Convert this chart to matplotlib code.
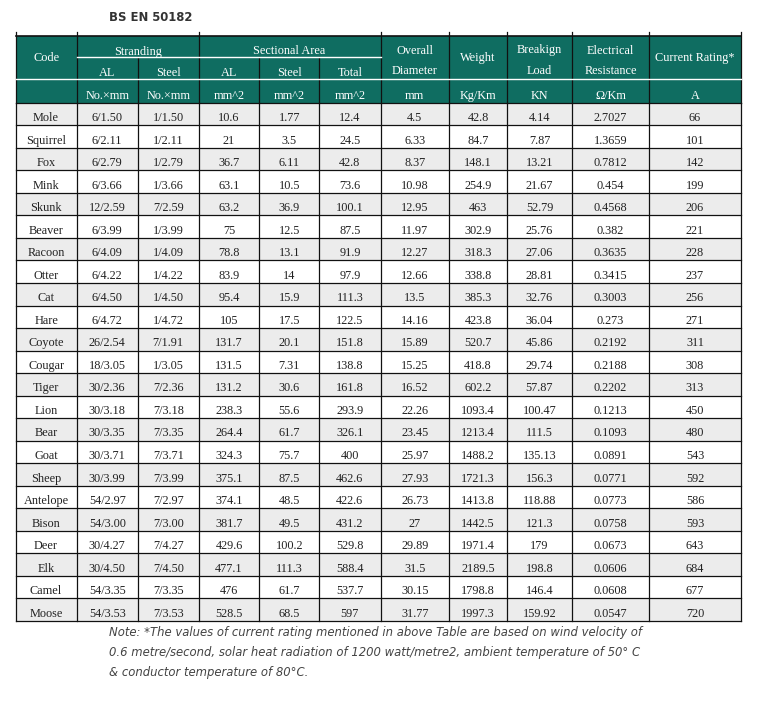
import matplotlib
matplotlib.use("Agg")
import matplotlib.pyplot as plt
from matplotlib.patches import Rectangle

# ---------------- data ----------------
title = "BS EN 50182"
codes = ["Mole", "Squirrel", "Fox", "Mink", "Skunk", "Beaver", "Racoon", "Otter", "Cat", "Hare",
         "Coyote", "Cougar", "Tiger", "Lion", "Bear", "Goat", "Sheep", "Antelope", "Bison", "Deer",
         "Elk", "Camel", "Moose"]
stranding_al = ["6/1.50", "6/2.11", "6/2.79", "6/3.66", "12/2.59", "6/3.99", "6/4.09", "6/4.22", "6/4.50",
                "6/4.72", "26/2.54", "18/3.05", "30/2.36", "30/3.18", "30/3.35", "30/3.71", "30/3.99",
                "54/2.97", "54/3.00", "30/4.27", "30/4.50", "54/3.35", "54/3.53"]
stranding_steel = ["1/1.50", "1/2.11", "1/2.79", "1/3.66", "7/2.59", "1/3.99", "1/4.09", "1/4.22", "1/4.50",
                   "1/4.72", "7/1.91", "1/3.05", "7/2.36", "7/3.18", "7/3.35", "7/3.71", "7/3.99",
                   "7/2.97", "7/3.00", "7/4.27", "7/4.50", "7/3.35", "7/3.53"]
area_al = ["10.6", "21", "36.7", "63.1", "63.2", "75", "78.8", "83.9", "95.4", "105", "131.7", "131.5",
           "131.2", "238.3", "264.4", "324.3", "375.1", "374.1", "381.7", "429.6", "477.1", "476", "528.5"]
area_steel = ["1.77", "3.5", "6.11", "10.5", "36.9", "12.5", "13.1", "14", "15.9", "17.5", "20.1", "7.31",
              "30.6", "55.6", "61.7", "75.7", "87.5", "48.5", "49.5", "100.2", "111.3", "61.7", "68.5"]
area_total = ["12.4", "24.5", "42.8", "73.6", "100.1", "87.5", "91.9", "97.9", "111.3", "122.5", "151.8",
              "138.8", "161.8", "293.9", "326.1", "400", "462.6", "422.6", "431.2", "529.8", "588.4",
              "537.7", "597"]
diameter = ["4.5", "6.33", "8.37", "10.98", "12.95", "11.97", "12.27", "12.66", "13.5", "14.16", "15.89",
            "15.25", "16.52", "22.26", "23.45", "25.97", "27.93", "26.73", "27", "29.89", "31.5", "30.15",
            "31.77"]
weight = ["42.8", "84.7", "148.1", "254.9", "463", "302.9", "318.3", "338.8", "385.3", "423.8", "520.7",
          "418.8", "602.2", "1093.4", "1213.4", "1488.2", "1721.3", "1413.8", "1442.5", "1971.4",
          "2189.5", "1798.8", "1997.3"]
breaking_load = ["4.14", "7.87", "13.21", "21.67", "52.79", "25.76", "27.06", "28.81", "32.76", "36.04",
                 "45.86", "29.74", "57.87", "100.47", "111.5", "135.13", "156.3", "118.88", "121.3", "179",
                 "198.8", "146.4", "159.92"]
resistance = ["2.7027", "1.3659", "0.7812", "0.454", "0.4568", "0.382", "0.3635", "0.3415", "0.3003",
              "0.273", "0.2192", "0.2188", "0.2202", "0.1213", "0.1093", "0.0891", "0.0771", "0.0773",
              "0.0758", "0.0673", "0.0606", "0.0608", "0.0547"]
current_rating = ["66", "101", "142", "199", "206", "221", "228", "237", "256", "271", "311", "308", "313",
                  "450", "480", "543", "592", "586", "593", "643", "684", "677", "720"]

units = ["", "No.×mm", "No.×mm", "mm^2", "mm^2", "mm^2", "mm", "Kg/Km", "KN", "Ω/Km", "A"]
note_lines = ["Note: *The values of current rating mentioned in above Table are based on wind velocity of",
              "0.6 metre/second, solar heat radiation of 1200 watt/metre2, ambient temperature of 50° C",
              "& conductor temperature of 80°C."]

columns = [codes, stranding_al, stranding_steel, area_al, area_steel, area_total,
           diameter, weight, breaking_load, resistance, current_rating]

# ---------------- layout ----------------
W, H = 758, 722
fig = plt.figure(figsize=(W / 100, H / 100), dpi=100)
ax = fig.add_axes([0, 0, 1, 1])
ax.set_xlim(0, W)
ax.set_ylim(H, 0)
ax.axis("off")

col_x = [15.5, 76.7, 137.7, 198.7, 259.3, 319.3, 380.5, 449, 507, 572, 649, 741]
top = 35.7
hdr_mid = 57.2
hdr_bot = 79.3
units_bot = 102.7
row_h = (621.0 - units_bot) / len(codes)

teal = "#0f6d61"
gray = "#ececec"
txt = "#222222"
serif = "Liberation Serif"
fs = 8.8

# header background
ax.add_patch(Rectangle((col_x[0], top), col_x[-1] - col_x[0], units_bot - top, color=teal, lw=0, zorder=1))

# data row backgrounds
for i in range(len(codes)):
    y0 = units_bot + i * row_h
    if i % 2 == 0:
        ax.add_patch(Rectangle((col_x[0], y0), col_x[-1] - col_x[0], row_h, color=gray, lw=0, zorder=1))

# data text
for i in range(len(codes)):
    yc = units_bot + (i + 0.5) * row_h + 4
    for j, col in enumerate(columns):
        xc = (col_x[j] + col_x[j + 1]) / 2
        ax.text(xc, yc, col[i], ha="center", va="center", fontsize=fs, family=serif, color=txt, zorder=3)

# grid lines for data
lw = 0.9
for i in range(len(codes) + 1):
    y = units_bot + i * row_h
    ax.plot([col_x[0], col_x[-1]], [y, y], color="#111111", lw=lw, zorder=2)
for x in col_x:
    ax.plot([x, x], [units_bot, units_bot + len(codes) * row_h], color="#111111", lw=lw, zorder=2)
# header vertical lines (spanning groups respected)
for j, x in enumerate(col_x):
    if j in (2, 4, 5):
        ax.plot([x, x], [hdr_mid, units_bot], color="#111111", lw=lw, zorder=2)
    else:
        ax.plot([x, x], [top - 4, units_bot], color="#111111", lw=lw, zorder=2)
ax.plot([col_x[0], col_x[-1]], [top, top], color="#111111", lw=1.2, zorder=2)
# white separators in header
ax.plot([col_x[1], col_x[6]], [hdr_mid, hdr_mid], color="white", lw=1.0, zorder=2)
ax.plot([col_x[0], col_x[-1]], [hdr_bot, hdr_bot], color="white", lw=1.0, zorder=2)


def hcell(c0, c1, y, s):
    ax.text((col_x[c0] + col_x[c1]) / 2, y, s, ha="center", va="center", fontsize=fs,
            family=serif, color="white", zorder=3)


hcell(0, 1, 57.7, "Code")
hcell(1, 3, 51.5, "Stranding")
hcell(3, 6, 51.5, "Sectional Area")
for j, s in zip(range(1, 6), ["AL", "Steel", "AL", "Steel", "Total"]):
    hcell(j, j + 1, 73.2, s)
hcell(6, 7, 50.5, "Overall")
hcell(6, 7, 71.0, "Diameter")
hcell(7, 8, 58.0, "Weight")
hcell(8, 9, 50.5, "Breakign")
hcell(8, 9, 71.0, "Load")
hcell(9, 10, 50.5, "Electrical")
hcell(9, 10, 71.0, "Resistance")
hcell(10, 11, 58.0, "Current Rating*")
for j, s in enumerate(units):
    hcell(j, j + 1, 96.2, s)

# title
ax.text(109.3, 17.5, title, ha="left", va="center", fontsize=8.4, family="DejaVu Sans",
        fontweight="bold", color="#333333")

# note
for k, line in enumerate(note_lines):
    ax.text(109.3, 632.5 + k * 20.2, line, ha="left", va="center", fontsize=8.42,
            family="DejaVu Sans", style="italic", color="#444444")

fig.savefig("out.png", dpi=100, facecolor="white")
